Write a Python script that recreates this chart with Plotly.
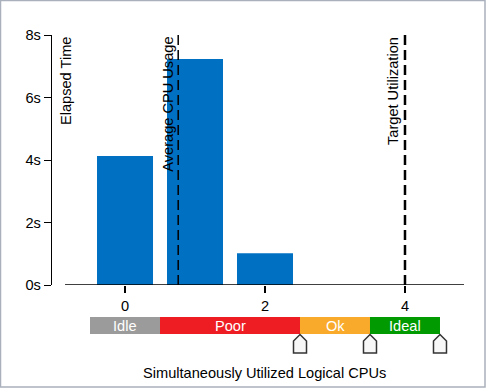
import plotly.graph_objects as go

# ---- data ----
cpus = [0, 1, 2]
elapsed_s = [4.13, 7.23, 1.02]
avg_cpu_usage = 0.76
target_utilization = 4
y_ticks = [0, 2, 4, 6, 8]
y_tick_labels = ["0s", "2s", "4s", "6s", "8s"]
x_ticks = [0, 2, 4]
band_names = ["Idle", "Poor", "Ok", "Ideal"]
band_edges = [-0.5, 0.5, 2.5, 3.5, 4.5]
band_colors = ["#9b9b9b", "#ee1d24", "#f9aa2a", "#019a01"]
marker_positions = band_edges[2:]

FONT = "Liberation Sans, Arial, sans-serif"
FS = 14.6
L, R, T, B = 52, 22, 35, 103
W, H = 486, 388
PH = H - T - B
PW = W - L - R

def py(pixel_y):
    return (H - B - pixel_y) / PH

def px(pixel_x):
    return (pixel_x - L) / PW

fig = go.Figure()
fig.add_trace(go.Bar(x=cpus, y=elapsed_s, width=0.8,
                     marker=dict(color="#0070c2", line=dict(width=0)),
                     hoverinfo="skip"))

shapes = []
# x axis line (starts right of y axis)
shapes.append(dict(type="line", xref="x", yref="y", x0=-0.857, x1=4.85, y0=0, y1=0,
                   line=dict(color="black", width=1.3)))
# reference lines
shapes.append(dict(type="line", xref="x", yref="paper", x0=avg_cpu_usage, x1=avg_cpu_usage,
                   y0=0, y1=1, line=dict(color="black", width=1.5, dash="10px,5px")))
shapes.append(dict(type="line", xref="x", yref="paper", x0=target_utilization, x1=target_utilization,
                   y0=0, y1=1, line=dict(color="black", width=2.5, dash="10px,5px")))
# band bar
annotations = []
for i, name in enumerate(band_names):
    shapes.append(dict(type="rect", xref="x", yref="paper",
                       x0=band_edges[i], x1=band_edges[i + 1], y0=py(334), y1=py(317),
                       fillcolor=band_colors[i], line=dict(width=0), layer="below"))
    annotations.append(dict(x=(band_edges[i] + band_edges[i + 1]) / 2, y=py(325.5),
                            xref="x", yref="paper", text=name, showarrow=False,
                            xanchor="center", yanchor="middle",
                            font=dict(color="white", size=FS, family=FONT)))
# house-shaped markers
for m in marker_positions:
    shapes.append(dict(type="path", xref="x", yref="paper", xsizemode="pixel", ysizemode="pixel",
                       xanchor=m, yanchor=py(334.5),
                       path="M 0 0 L 6.5 -6.5 L 6.5 -18.5 L -6.5 -18.5 L -6.5 -6.5 Z",
                       fillcolor="#f7f7f7", line=dict(color="#333333", width=1.5), layer="above"))
# frame
shapes.append(dict(type="rect", xref="paper", yref="paper",
                   x0=px(0.5), x1=px(485), y0=py(387), y1=py(0.5),
                   line=dict(color="#aab1bc", width=1.5), fillcolor="rgba(0,0,0,0)"))

annotations += [
    dict(x=-0.843, y=py(35), xref="x", yref="paper", text="Elapsed Time", textangle=-90,
         xanchor="center", yanchor="top", showarrow=False, font=dict(size=FS, family=FONT, color="black")),
    dict(x=avg_cpu_usage, y=py(35), xref="x", yref="paper", xshift=-11, text="Average CPU Usage",
         textangle=-90, xanchor="center", yanchor="top", showarrow=False,
         font=dict(size=FS, family=FONT, color="black")),
    dict(x=target_utilization, y=py(35), xref="x", yref="paper", xshift=-12, text="Target Utilization",
         textangle=-90, xanchor="center", yanchor="top", showarrow=False,
         font=dict(size=FS, family=FONT, color="black")),
    dict(x=px(264.5), y=py(373), xref="paper", yref="paper", text="Simultaneously Utilized Logical CPUs",
         xanchor="center", yanchor="middle", showarrow=False, font=dict(size=FS, family=FONT, color="black")),
]

fig.update_layout(
    width=W, height=H, margin=dict(l=L, r=R, t=T, b=B),
    paper_bgcolor="white", plot_bgcolor="white", showlegend=False,
    font=dict(family=FONT, size=FS, color="black"),
    shapes=shapes, annotations=annotations,
    xaxis=dict(range=[-1.043, 4.843], tickvals=x_ticks, ticks="outside", ticklen=7, tickwidth=2,
               tickcolor="black", showline=False, showgrid=False, zeroline=False, fixedrange=True),
    yaxis=dict(range=[0, 8], tickvals=y_ticks, ticktext=y_tick_labels, ticks="outside", ticklen=7,
               tickwidth=1.3, tickcolor="black", showline=True, linecolor="black", linewidth=1.3,
               showgrid=False, zeroline=False, fixedrange=True),
)
fig.write_html("out.html", config=dict(displayModeBar=False),
               post_script="document.body.style.margin='0';document.body.style.overflow='hidden';")
